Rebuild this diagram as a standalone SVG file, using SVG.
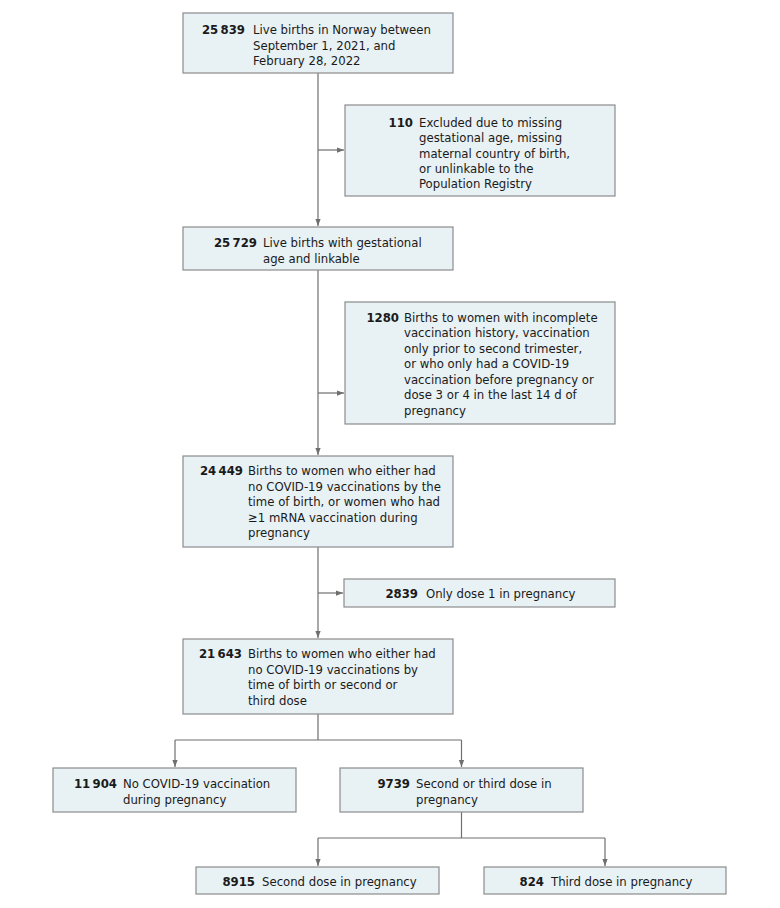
<svg xmlns="http://www.w3.org/2000/svg" width="780" height="908" viewBox="0 0 780 908">
<style>
.box{fill:#e8f1f4;stroke:#8c8c8c;stroke-width:1.2}
.t{font-family:"DejaVu Sans Condensed","Liberation Sans",Arial,sans-serif;font-stretch:condensed;font-size:13px;fill:#1a1a1a}
.n{font-weight:bold;text-anchor:end}
.c{fill:none;stroke:#6f6f6f;stroke-width:1.2}
</style>
<defs>
<marker id="ah" viewBox="0 0 8 8" refX="8" refY="4" markerWidth="7" markerHeight="7" markerUnits="userSpaceOnUse" orient="auto">
<path d="M0,1 L8,4 L0,7 z" fill="#6f6f6f"/>
</marker>
</defs>
<rect width="780" height="908" fill="#ffffff"/>
<g id="connectors">
<path class="c" d="M318,73 V226" marker-end="url(#ah)"/>
<path class="c" d="M318,150 H344" marker-end="url(#ah)"/>
<path class="c" d="M318,270 V455" marker-end="url(#ah)"/>
<path class="c" d="M318,393 H344" marker-end="url(#ah)"/>
<path class="c" d="M318,547 V638" marker-end="url(#ah)"/>
<path class="c" d="M318,593 H343" marker-end="url(#ah)"/>
<path class="c" d="M318,714 V740 M175,740 H461.5"/>
<path class="c" d="M175,740 V767" marker-end="url(#ah)"/>
<path class="c" d="M461.5,740 V767" marker-end="url(#ah)"/>
<path class="c" d="M461.5,812 V838 M318,838 H605"/>
<path class="c" d="M318,838 V866" marker-end="url(#ah)"/>
<path class="c" d="M605,838 V866" marker-end="url(#ah)"/>
</g>
<g id="n1">
<rect class="box" x="183" y="13" width="270" height="60"/>
<text class="t n" x="245" y="34">25&#8201;839</text>
<text class="t" x="253" y="34">Live births in Norway between</text>
<text class="t" x="253" y="49.5">September 1, 2021, and</text>
<text class="t" x="253" y="65">February 28, 2022</text>
</g>
<g id="n2">
<rect class="box" x="345" y="105" width="270" height="91"/>
<text class="t n" x="413" y="127">110</text>
<text class="t" x="419" y="127">Excluded due to missing</text>
<text class="t" x="419" y="142.3">gestational age, missing</text>
<text class="t" x="419" y="157.6">maternal country of birth,</text>
<text class="t" x="419" y="172.9">or unlinkable to the</text>
<text class="t" x="419" y="188.2">Population Registry</text>
</g>
<g id="n3">
<rect class="box" x="183" y="227" width="270" height="43"/>
<text class="t n" x="257" y="247">25&#8201;729</text>
<text class="t" x="263" y="247">Live births with gestational</text>
<text class="t" x="263" y="262.5">age and linkable</text>
</g>
<g id="n4">
<rect class="box" x="345" y="302" width="270" height="122"/>
<text class="t n" x="399" y="321.5">1280</text>
<text class="t" x="404" y="321.5">Births to women with incomplete</text>
<text class="t" x="404" y="337">vaccination history, vaccination</text>
<text class="t" x="404" y="352.5">only prior to second trimester,</text>
<text class="t" x="404" y="368">or who only had a COVID-19</text>
<text class="t" x="404" y="383.5">vaccination before pregnancy or</text>
<text class="t" x="404" y="399">dose 3 or 4 in the last 14 d of</text>
<text class="t" x="404" y="414.5">pregnancy</text>
</g>
<g id="n5">
<rect class="box" x="183" y="456" width="270" height="91"/>
<text class="t n" x="243" y="475">24&#8201;449</text>
<text class="t" x="248" y="475">Births to women who either had</text>
<text class="t" x="248" y="490.5">no COVID-19 vaccinations by the</text>
<text class="t" x="248" y="506">time of birth, or women who had</text>
<text class="t" x="248" y="521.5">≥1 mRNA vaccination during</text>
<text class="t" x="248" y="537">pregnancy</text>
</g>
<g id="n6">
<rect class="box" x="344" y="579" width="271" height="28"/>
<text class="t n" x="418" y="597.5">2839</text>
<text class="t" x="426" y="597.5">Only dose 1 in pregnancy</text>
</g>
<g id="n7">
<rect class="box" x="183" y="639" width="270" height="75"/>
<text class="t n" x="242" y="658">21&#8201;643</text>
<text class="t" x="248" y="658">Births to women who either had</text>
<text class="t" x="248" y="673.5">no COVID-19 vaccinations by</text>
<text class="t" x="248" y="689">time of birth or second or</text>
<text class="t" x="248" y="704.5">third dose</text>
</g>
<g id="n8">
<rect class="box" x="53" y="768" width="243" height="44"/>
<text class="t n" x="117" y="788">11&#8201;904</text>
<text class="t" x="123" y="788">No COVID-19 vaccination</text>
<text class="t" x="123" y="803.5">during pregnancy</text>
</g>
<g id="n9">
<rect class="box" x="340" y="768" width="243" height="44"/>
<text class="t n" x="410" y="788">9739</text>
<text class="t" x="416" y="788">Second or third dose in</text>
<text class="t" x="416" y="803.5">pregnancy</text>
</g>
<g id="n10">
<rect class="box" x="196" y="867" width="243" height="27"/>
<text class="t n" x="255" y="885.5">8915</text>
<text class="t" x="262" y="885.5">Second dose in pregnancy</text>
</g>
<g id="n11">
<rect class="box" x="484" y="867" width="242" height="27"/>
<text class="t n" x="544" y="885.5">824</text>
<text class="t" x="551" y="885.5">Third dose in pregnancy</text>
</g>
</svg>
